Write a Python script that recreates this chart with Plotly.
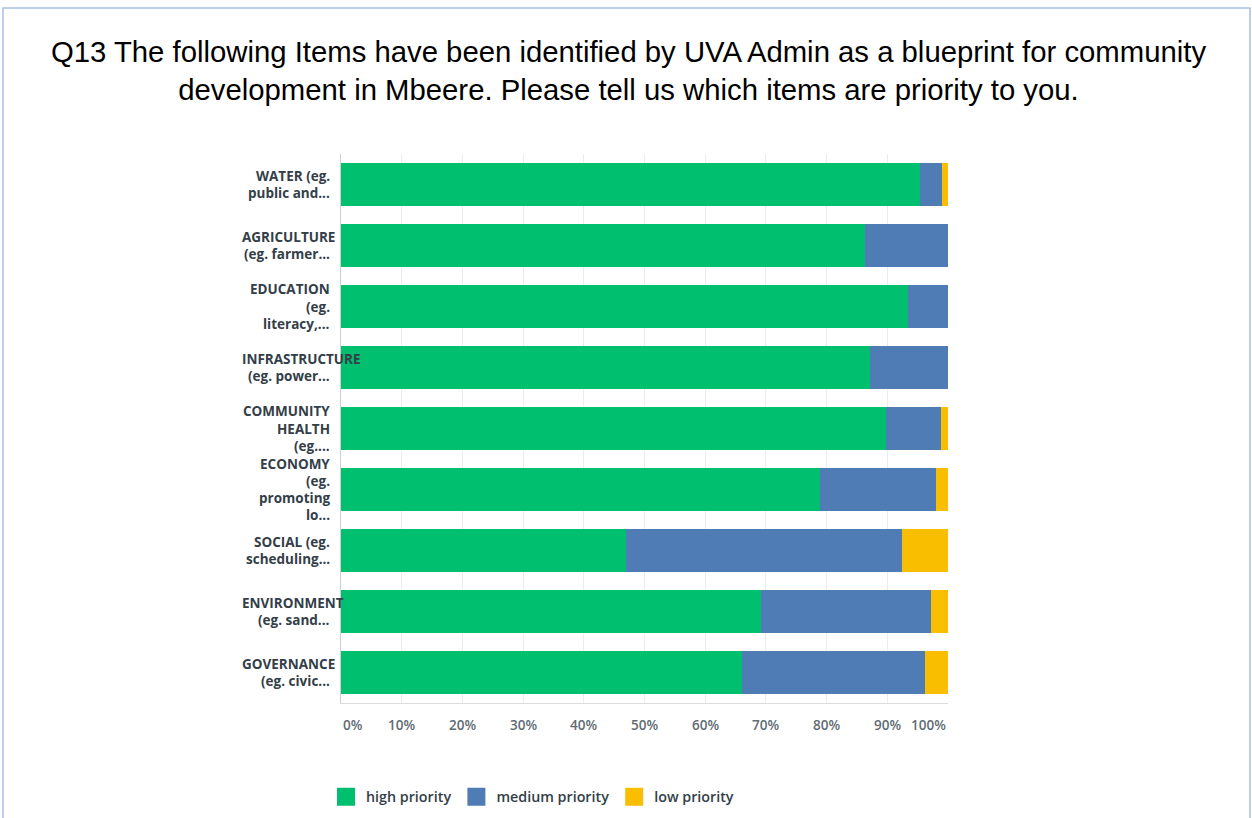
import plotly.graph_objects as go

# ---------------- data ----------------
categories = [
    "WATER (eg.<br>public and...",
    "AGRICULTURE<br>(eg. farmer...",
    "EDUCATION<br>(eg.<br>literacy,...",
    "INFRASTRUCTURE<br>(eg. power...",
    "COMMUNITY<br>HEALTH<br>(eg....",
    "ECONOMY<br>(eg.<br>promoting<br>lo...",
    "SOCIAL (eg.<br>scheduling...",
    "ENVIRONMENT<br>(eg. sand...",
    "GOVERNANCE<br>(eg. civic...",
]
high_priority = [95.4, 86.3, 93.4, 87.1, 89.8, 78.9, 47.0, 69.2, 66.1]
medium_priority = [3.6, 13.7, 6.6, 12.9, 9.0, 19.1, 45.4, 28.0, 30.1]
low_priority = [1.0, 0.0, 0.0, 0.0, 1.2, 2.0, 7.6, 2.8, 3.8]
series_names = ["high priority", "medium priority", "low priority"]
series_colors = ["#00bf6f", "#507cb6", "#f9be00"]
x_ticks = [0, 10, 20, 30, 40, 50, 60, 70, 80, 90, 100]
x_tick_labels = ["0%", "10%", "20%", "30%", "40%", "50%", "60%", "70%", "80%", "90%", "100%"]
title_text = ("Q13 The following Items have been identified by UVA Admin as a blueprint for community"
              "<br>development in Mbeere. Please tell us which items are priority to you.")

# ---------------- layout geometry ----------------
W, H = 1252, 818
L, R, T, B = 341, 948, 154, 703
pw, ph = R - L, B - T

def px_to_paper_x(px):
    return (px - L) / pw

def px_to_paper_y(py):
    return (B - py) / ph

fig = go.Figure()

values = [high_priority, medium_priority, low_priority]
for name, vals, col in zip(series_names, values, series_colors):
    fig.add_trace(go.Bar(
        y=categories, x=vals, name=name, orientation="h",
        marker=dict(color=col, line=dict(width=0)),
        showlegend=False,
    ))
    # legend proxy with larger square symbol
    fig.add_trace(go.Scatter(
        x=[None], y=[None], mode="markers", name=name,
        marker=dict(symbol="square", size=16, color=col, line=dict(color=col, width=2)),
        showlegend=True,
    ))

label_font = dict(family="Open Sans", size=13.5, color="#333e48", weight=700)
annotations = []
# category labels (wrapped text box, long words overflow to the right)
box_left = px_to_paper_x(240)
box_right = px_to_paper_x(332)
line_h = 17.2
for cat in categories:
    lines = cat.split("<br>")
    n = len(lines)
    for i, ln in enumerate(lines):
        overflow = ln.isupper() and " " not in ln and len(ln) >= 10
        annotations.append(dict(
            xref="paper", yref="y", x=box_left if overflow else box_right, y=cat,
            xanchor="left" if overflow else "right", yanchor="middle",
            yshift=((n - 1) / 2 - i) * line_h,
            text=ln, showarrow=False, font=label_font,
        ))

# x tick labels
for i, (v, t) in enumerate(zip(x_ticks, x_tick_labels)):
    anchor = "left" if i == 0 else ("right" if i == len(x_ticks) - 1 else "center")
    annotations.append(dict(
        xref="x", yref="paper", x=v, y=px_to_paper_y(725), xanchor=anchor, yanchor="middle",
        text=t, showarrow=False,
        font=dict(family="Open Sans", size=13.5, color="#5f6b73", weight=600),
    ))

shapes = [dict(
    type="rect", xref="paper", yref="paper",
    x0=px_to_paper_x(3), x1=px_to_paper_x(1250),
    y0=px_to_paper_y(830), y1=px_to_paper_y(8),
    line=dict(color="#a9bfe6", width=1.5), fillcolor="rgba(0,0,0,0)", layer="below",
)]

fig.update_layout(
    width=W, height=H,
    margin=dict(l=L, r=W - R, t=T, b=H - B, pad=0, autoexpand=False),
    barmode="stack", bargap=0.28,
    paper_bgcolor="white", plot_bgcolor="white",
    title=dict(
        text=title_text, x=628.5 / W, xref="container", xanchor="center",
        y=1 - 62 / H, yref="container", yanchor="top",
        font=dict(family="Liberation Sans", size=29.3, color="#000000"),
    ),
    xaxis=dict(
        range=[0, 100], tickvals=x_ticks, showticklabels=False,
        showgrid=True, gridcolor="#ececec", gridwidth=1,
        showline=True, linecolor="#dcdcdc", linewidth=1,
        zeroline=False, fixedrange=True,
    ),
    yaxis=dict(
        autorange="reversed", showticklabels=False, showgrid=False,
        showline=True, linecolor="#cfcfcf", linewidth=1, ticks="",
        zeroline=False,
    ),
    legend=dict(
        orientation="h", traceorder="normal", x=px_to_paper_x(326), xanchor="left",
        y=px_to_paper_y(797), yanchor="middle",
        font=dict(family="Open Sans", size=14.3, color="#333e48", weight=600),
        itemclick=False, bgcolor="rgba(0,0,0,0)",
    ),
    annotations=annotations,
    shapes=shapes,
    showlegend=True,
)

fig.write_html("out.html")
